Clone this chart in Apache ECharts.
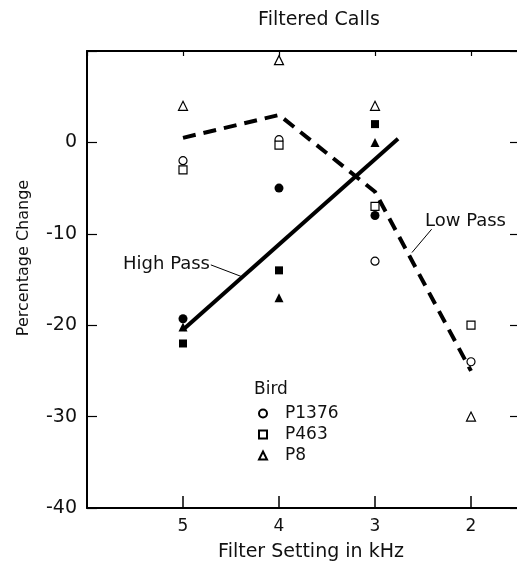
<!DOCTYPE html>
<html>
<head>
<meta charset="utf-8">
<script src="https://cdn.jsdelivr.net/npm/echarts@6/dist/echarts.min.js"></script>
<style>
  html, body { margin: 0; padding: 0; background: #fff; }
  #chart { width: 517px; height: 566px; }
</style>
</head>
<body>
<div id="chart"></div>
<script>
// filter settings (kHz)
const xTicks = [5, 4, 3, 2]
const yTicks = [0, -10, -20, -30, -40]

// fitted lines
const lowPass = [[5, 0.5], [4, 3], [3, -5.4], [2, -25]]
const highPass = [[5, -20.5], [2.76, 0.4]]

// low-pass points (open symbols)
const p1376Low = [[5, -2], [4, 0.3], [3, -13], [2, -24]]
const p463Low = [[5, -3], [4, -0.3], [3, -7], [2, -20]]
const p8Low = [[5, 4], [4, 9], [3, 4], [2, -30]]

// high-pass points (filled symbols)
const p1376High = [[5, -19.3], [4, -5], [3, -8]]
const p463High = [[5, -22], [4, -14], [3, 2]]
const p8High = [[5, -20.2], [4, -17], [3, 0]]

// annotation leaders
const highPassLeader = [[4.71, -13.4], [4.385, -14.7]]
const lowPassLeader = [[2.41, -9.5], [2.615, -12.05]]

const font = 'DejaVu Sans'
const mychart = echarts.init(document.getElementById('chart'))

function openSeries(name, symbol, size, data) {
  return {
    name: name,
    type: 'scatter',
    symbol: symbol,
    symbolSize: size,
    data: data,
    itemStyle: { color: '#fff', borderColor: '#000', borderWidth: 1.2, opacity: 1 },
    z: 5
  }
}
function filledSeries(name, symbol, size, data) {
  return {
    name: name,
    type: 'scatter',
    symbol: symbol,
    symbolSize: size,
    data: data,
    itemStyle: { color: '#000', opacity: 1 },
    z: 5
  }
}

const option = {
  animation: false,
  title: {
    text: 'Filtered Calls',
    left: 314,
    textAlign: 'center',
    top: 6,
    textStyle: { fontFamily: font, fontWeight: 'normal', fontSize: 19, color: '#111' }
  },
  // the frame runs past the right edge of the picture
  grid: { left: 87, top: 51, bottom: 58, right: -50, outerBoundsMode: 'none', containLabel: false },
  legend: {
    orient: 'vertical',
    left: 253,
    top: 399,
    itemWidth: 8,
    itemHeight: 8,
    itemGap: 2,
    data: ['P1376', 'P463', 'P8'],
    textStyle: { fontFamily: font, fontSize: 17, color: '#111', padding: [0, 0, 0, 13], lineHeight: 19 }
  },
  xAxis: [
    {
      type: 'value',
      min: 1, max: 6, interval: 1,
      inverse: true,
      name: 'Filter Setting in kHz',
      nameLocation: 'middle',
      nameGap: 35,
      nameTextStyle: { fontFamily: font, fontSize: 19, color: '#111', padding: [0, 32, 0, 0] },
      axisLine: { onZero: false, lineStyle: { color: '#000', width: 2 } },
      axisTick: { inside: true, length: 12, lineStyle: { color: '#000', width: 1.5 } },
      axisLabel: {
        fontFamily: font, fontSize: 17, color: '#111', margin: 10,
        formatter: v => xTicks.indexOf(v) >= 0 ? String(v) : ''
      },
      splitLine: { show: false }
    },
    {
      type: 'value',
      position: 'top',
      min: 1, max: 6, interval: 1,
      inverse: true,
      axisLine: { onZero: false, lineStyle: { color: '#000', width: 2 } },
      axisTick: { inside: true, length: 5, lineStyle: { color: '#000', width: 1.2 } },
      axisLabel: { show: false },
      splitLine: { show: false }
    }
  ],
  yAxis: [
    {
      type: 'value',
      min: -40, max: 10, interval: 10,
      axisLine: { onZero: false, lineStyle: { color: '#000', width: 2 } },
      axisTick: { inside: true, length: 10, lineStyle: { color: '#000', width: 1.2 } },
      axisLabel: {
        fontFamily: font, fontSize: 19, color: '#111', margin: 10,
        formatter: v => yTicks.indexOf(v) >= 0 ? String(v) : ''
      },
      splitLine: { show: false }
    },
    {
      type: 'value',
      position: 'right',
      offset: -45,
      min: -40, max: 10, interval: 10,
      axisLine: { show: true, onZero: false, lineStyle: { color: '#000', width: 2 } },
      axisTick: { show: true, inside: true, length: 12, lineStyle: { color: '#000', width: 1.2 } },
      axisLabel: { show: false },
      splitLine: { show: false }
    }
  ],
  graphic: [
    {
      type: 'text', x: 24, y: 258, rotation: Math.PI / 2,
      style: { text: 'Percentage Change', font: '16px "DejaVu Sans"', fill: '#111', align: 'center', verticalAlign: 'middle' }
    },
    {
      type: 'text', x: 254, y: 390,
      style: { text: 'Bird', font: '17px "DejaVu Sans"', fill: '#111', align: 'left', verticalAlign: 'middle' }
    },
    {
      type: 'text', x: 210, y: 264,
      style: { text: 'High Pass', font: '18px "DejaVu Sans"', fill: '#111', align: 'right', verticalAlign: 'middle' }
    },
    {
      type: 'text', x: 425, y: 221,
      style: { text: 'Low Pass', font: '18px "DejaVu Sans"', fill: '#111', align: 'left', verticalAlign: 'middle' }
    }
  ],
  series: [
    {
      name: 'Low Pass',
      type: 'line',
      data: lowPass,
      symbol: 'none',
      lineStyle: { color: '#000', width: 4, type: [13, 8] },
      markLine: {
        silent: true,
        symbol: ['none', 'arrow'],
        symbolSize: [0, 7],
        lineStyle: { color: '#000', width: 1, type: 'solid' },
        label: { show: false },
        data: [[{ coord: lowPassLeader[0] }, { coord: lowPassLeader[1] }]]
      },
      z: 3
    },
    {
      name: 'High Pass',
      type: 'line',
      data: highPass,
      symbol: 'none',
      lineStyle: { color: '#000', width: 4 },
      markLine: {
        silent: true,
        symbol: ['none', 'arrow'],
        symbolSize: [0, 7],
        lineStyle: { color: '#000', width: 1, type: 'solid' },
        label: { show: false },
        data: [[{ coord: highPassLeader[0] }, { coord: highPassLeader[1] }]]
      },
      z: 3
    },
    openSeries('P1376', 'circle', 8, p1376Low),
    openSeries('P463', 'rect', 8, p463Low),
    openSeries('P8', 'triangle', 9, p8Low),
    filledSeries('P1376 high', 'circle', 9, p1376High),
    filledSeries('P463 high', 'rect', 8, p463High),
    filledSeries('P8 high', 'triangle', 9, p8High)
  ]
}
mychart.setOption(option, true)
</script>
</body>
</html>
